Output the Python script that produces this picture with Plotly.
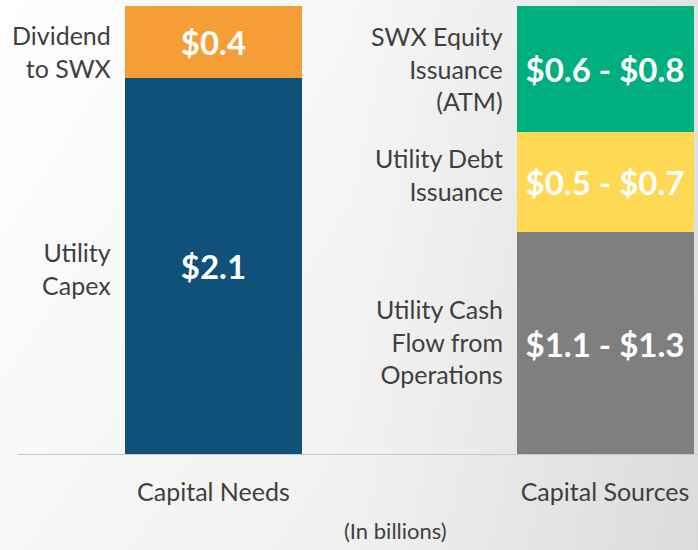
import plotly.graph_objects as go

# ---- data ----
categories = ["Capital Needs", "Capital Sources"]
segment_names = ["Utility<br>Capex", "Dividend<br>to SWX",
                 "Utility Cash<br>Flow from<br>Operations", "Utility Debt<br>Issuance",
                 "SWX Equity<br>Issuance<br>(ATM)"]
segment_category = ["Capital Needs", "Capital Needs",
                    "Capital Sources", "Capital Sources", "Capital Sources"]
segment_values = [2.1, 0.4, 1.24, 0.56, 0.70]
segment_labels = ["$2.1", "$0.4", "$1.1 - $1.3", "$0.5 - $0.7", "$0.6 - $0.8"]
footnote = "(In billions)"

# ---- style ----
colors = ["#10517A", "#F59E38", "#7F7F7F", "#FFD954", "#00AE7E"]
caption_yshift = [-2, -10, 2, 7, 0]
FONT = "Lato"
TEXT_COLOR = "#3F3F3F"
BAR_WIDTH = 0.452

fig = go.Figure()

# background gradient (heatmap on its own full-page axes)
fig.add_trace(go.Heatmap(
    x=[0, 0.5, 1], y=[0, 1],
    z=[[247, 240, 219], [255, 247, 226]],
    zmin=0, zmax=255, zsmooth="best",
    colorscale=[[0, "#000000"], [1, "#ffffff"]],
    showscale=False, hoverinfo="skip",
    xaxis="x", yaxis="y",
))

# stacked bars
for name, cat, val, lab, col in zip(segment_names, segment_category,
                                    segment_values, segment_labels, colors):
    fig.add_trace(go.Bar(
        x=[cat], y=[val], name=name, text=[lab],
        marker=dict(color=col, line=dict(width=0)),
        width=BAR_WIDTH,
        textposition="inside", insidetextanchor="middle",
        textfont=dict(family=FONT, size=33, color="white", weight="bold"),
        constraintext="none",
        xaxis="x2", yaxis="y2", hoverinfo="skip",
    ))

# segment captions to the left of the bars
cum = {c: 0.0 for c in categories}
annotations = []
for name, cat, val, ys in zip(segment_names, segment_category, segment_values, caption_yshift):
    mid = cum[cat] + val / 2
    cum[cat] += val
    idx = categories.index(cat)
    annotations.append(dict(
        x=idx - BAR_WIDTH / 2, y=mid, xref="x2", yref="y2",
        text=name, showarrow=False, xanchor="right", yanchor="middle",
        align="right", xshift=-12, yshift=ys,
        font=dict(family=FONT, size=25, color=TEXT_COLOR),
    ))

annotations.append(dict(
    x=0.566, y=0.036, xref="paper", yref="paper", text=footnote,
    showarrow=False, xanchor="center", yanchor="middle",
    font=dict(family=FONT, size=22, color=TEXT_COLOR),
))

top = max(cum.values())
fig.update_layout(
    width=698, height=550,
    margin=dict(l=0, r=0, t=0, b=0),
    barmode="stack", showlegend=False,
    paper_bgcolor="white", plot_bgcolor="rgba(0,0,0,0)",
    xaxis=dict(domain=[0, 1], range=[0, 1], visible=False, fixedrange=True),
    yaxis=dict(domain=[0, 1], range=[0, 1], visible=False, fixedrange=True),
    xaxis2=dict(domain=[0, 1], anchor="y2", range=[-0.545, 1.2375],
                showgrid=False, zeroline=False, showline=False, ticks="",
                ticklabelstandoff=20,
                tickfont=dict(family=FONT, size=25, color=TEXT_COLOR)),
    yaxis2=dict(domain=[95 / 550, 1], anchor="x2", range=[0, top * 1.0132],
                showgrid=False, zeroline=False, showticklabels=False, showline=False),
    annotations=annotations,
    shapes=[dict(type="line", xref="paper", yref="y2", x0=0.026, x1=1, y0=0, y1=0,
                 line=dict(color="#C9C9C9", width=2), layer="above")],
    font=dict(family=FONT),
)

fig.write_html("out.html", config={"displayModeBar": False},
               post_script="document.body.style.margin='0';document.body.style.padding='0';")
